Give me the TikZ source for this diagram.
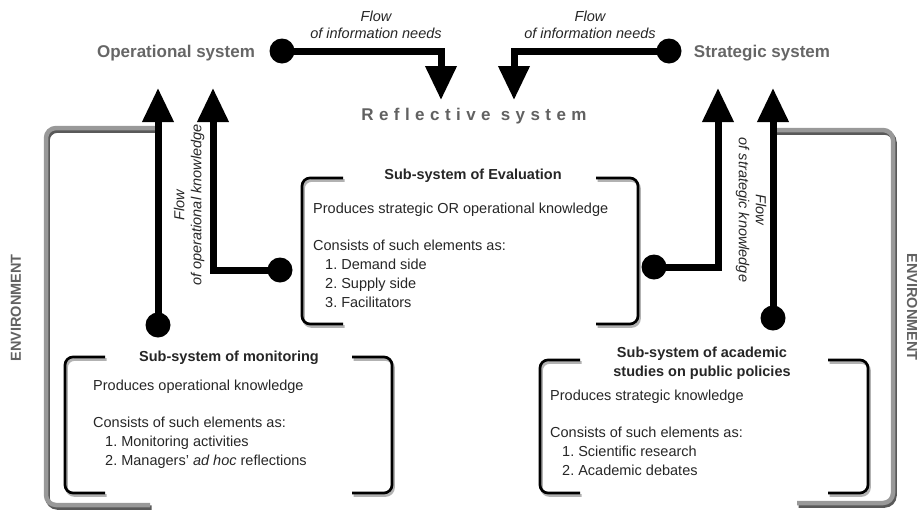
\documentclass[tikz,border=0pt]{standalone}
\usepackage{fontspec}
\setmainfont{Liberation Sans}
\usetikzlibrary{arrows.meta}

\begin{document}
\begin{tikzpicture}[x=1pt, y=-1pt,
  flow/.style={line width=7pt, -{Triangle[length=34pt,width=30pt]}},
  dot/.style={circle, fill=black, inner sep=0pt, minimum size=25pt},
  sysname/.style={font=\bfseries\fontsize{17}{20}\selectfont, text=black!60},
  title/.style={font=\bfseries\fontsize{14.5}{19}\selectfont, text=black!85, align=center},
  body/.style={font=\fontsize{14.5}{19}\selectfont, text=black!85, align=left, anchor=north west, inner sep=0pt},
  flowtext/.style={font=\itshape\fontsize{14.5}{17}\selectfont, text=black!85, align=center},
  envtext/.style={font=\bfseries\fontsize{14.5}{17}\selectfont, text=black!62},
  bracket/.style={line width=2.7pt, rounded corners=8pt},
  brshadow/.style={bracket, black!30, shift={(1.5,2.5)}},
  envline/.style={line width=4.5pt, black!40, rounded corners=10pt},
  envshadow/.style={envline, black!65, shift={(1.5,2.5)}}]
  \useasboundingbox (0,0) rectangle (922,515);

  % environment
  \draw[envshadow] (158,128) -- (46,128) -- (46,505) -- (150,505);
  \draw[envline] (158,128) -- (46,128) -- (46,505) -- (150,505);
  \draw[envshadow] (773,130) -- (893,130) -- (893,503) -- (797,503);
  \draw[envline] (773,130) -- (893,130) -- (893,503) -- (797,503);
  \node[envtext, rotate=90] (envL) at (16,308) {ENVIRONMENT};
  \node[envtext, rotate=-90] (envR) at (912,307) {ENVIRONMENT};

  % systems
  \node[sysname] (opsys) at (176,53) {Operational system};
  \node[sysname] (stsys) at (762,53) {Strategic system};
  \node[sysname, text=black!62] (refsys) at (474,116)
    {\addfontfeature{LetterSpace=32}Reflective system};

  % dots
  \node[dot] (opdot) at (282,51) {};
  \node[dot] (stdot) at (669,51) {};
  \node[dot] (mondot) at (158,325) {};
  \node[dot] (evldot) at (280,270) {};
  \node[dot] (evrdot) at (654,267) {};
  \node[dot] (acadot) at (773,318) {};

  % arrow ends
  \coordinate (refL) at (441,100);
  \coordinate (refR) at (514,100);
  \coordinate (opA) at (158,88);
  \coordinate (opB) at (213,88);
  \coordinate (stA) at (718,88);
  \coordinate (stB) at (773,88);

  % flows
  \draw[flow] (opdot.center) -| (refL);
  \draw[flow] (stdot.center) -| (refR);
  \draw[flow] (mondot.center) -- (opA);
  \draw[flow] (evldot.center) -| (opB);
  \draw[flow] (evrdot.center) -| (stA);
  \draw[flow] (acadot.center) -- (stB);

  \node[flowtext] (infoL) at (376,25) {Flow\\of information needs};
  \node[flowtext] (infoR) at (590,25) {Flow\\of information needs};
  \node[flowtext, rotate=90] (opknow) at (189,205) {Flow\\of operational knowledge};
  \node[flowtext, rotate=-90] (stknow) at (751,210) {Flow\\of strategic knowledge};

  % sub-system of evaluation
  \foreach \s in {brshadow, bracket} {
    \draw[\s] (343,178) -- (302,178) -- (302,324) -- (343,324);
    \draw[\s] (596,178) -- (638,178) -- (638,324) -- (596,324);
  }
  \node[title] (evtitle) at (473,176) {Sub-system of Evaluation};
  \node[body] (evtext) at (313,203) {Produces strategic OR operational knowledge\\[18pt]
    Consists of such elements as:\\
    \hspace*{12pt}1.\ Demand side\\
    \hspace*{12pt}2.\ Supply side\\
    \hspace*{12pt}3.\ Facilitators};

  % sub-system of monitoring
  \foreach \s in {brshadow, bracket} {
    \draw[\s] (105,357) -- (65,357) -- (65,493) -- (105,493);
    \draw[\s] (352,357) -- (392,357) -- (392,493) -- (352,493);
  }
  \node[title] (montitle) at (229,358) {Sub-system of monitoring};
  \node[body] (montext) at (93,380) {Produces operational knowledge\\[18pt]
    Consists of such elements as:\\
    \hspace*{12pt}1.\ Monitoring activities\\
    \hspace*{12pt}2.\ Managers' \textit{ad hoc} reflections};

  % sub-system of academic studies
  \foreach \s in {brshadow, bracket} {
    \draw[\s] (580,360) -- (540,360) -- (540,493) -- (580,493);
    \draw[\s] (828,360) -- (868,360) -- (868,493) -- (828,493);
  }
  \node[title] (actitle) at (702,363) {Sub-system of academic\\studies on public policies};
  \node[body] (actext) at (550,390) {Produces strategic knowledge\\[18pt]
    Consists of such elements as:\\
    \hspace*{12pt}1.\ Scientific research\\
    \hspace*{12pt}2.\ Academic debates};
\end{tikzpicture}
\end{document}
